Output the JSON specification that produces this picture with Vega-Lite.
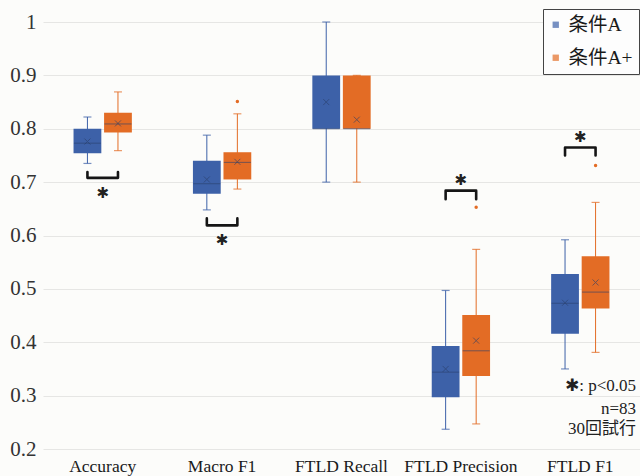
{
  "$schema": "https://vega.github.io/schema/vega-lite/v6.json",
  "autosize": {"type": "none"},
  "padding": {"left": 43, "top": 22, "right": 0, "bottom": 27},
  "width": 597,
  "height": 427,
  "background": "#fcfcfa",
  "config": {
    "view": {"stroke": null},
    "font": "Liberation Serif"
  },
  "datasets": {
    "boxes": [
      {"metric": "Accuracy", "cond": "条件A", "min": 0.735, "q1": 0.754, "median": 0.773, "q3": 0.800, "max": 0.822, "mean": 0.776},
      {"metric": "Accuracy", "cond": "条件A+", "min": 0.759, "q1": 0.793, "median": 0.809, "q3": 0.830, "max": 0.869, "mean": 0.810},
      {"metric": "Macro F1", "cond": "条件A", "min": 0.648, "q1": 0.678, "median": 0.697, "q3": 0.740, "max": 0.788, "mean": 0.705},
      {"metric": "Macro F1", "cond": "条件A+", "min": 0.687, "q1": 0.705, "median": 0.737, "q3": 0.756, "max": 0.828, "mean": 0.738},
      {"metric": "FTLD Recall", "cond": "条件A", "min": 0.70, "q1": 0.80, "median": 0.80, "q3": 0.90, "max": 1.00, "mean": 0.850},
      {"metric": "FTLD Recall", "cond": "条件A+", "min": 0.70, "q1": 0.80, "median": 0.80, "q3": 0.90, "max": 0.90, "mean": 0.817},
      {"metric": "FTLD Precision", "cond": "条件A", "min": 0.237, "q1": 0.297, "median": 0.344, "q3": 0.393, "max": 0.497, "mean": 0.350},
      {"metric": "FTLD Precision", "cond": "条件A+", "min": 0.247, "q1": 0.337, "median": 0.384, "q3": 0.451, "max": 0.574, "mean": 0.403},
      {"metric": "FTLD F1", "cond": "条件A", "min": 0.350, "q1": 0.416, "median": 0.473, "q3": 0.528, "max": 0.592, "mean": 0.474},
      {"metric": "FTLD F1", "cond": "条件A+", "min": 0.381, "q1": 0.463, "median": 0.494, "q3": 0.561, "max": 0.662, "mean": 0.512}
    ],
    "outliers": [
      {"metric": "Macro F1", "cond": "条件A+", "value": 0.851},
      {"metric": "FTLD Precision", "cond": "条件A+", "value": 0.653},
      {"metric": "FTLD F1", "cond": "条件A+", "value": 0.731}
    ],
    "brackets": [
      {"id": "acc", "metric": "Accuracy", "cond": "条件A", "ord": 1, "value": 0.719},
      {"id": "acc", "metric": "Accuracy", "cond": "条件A", "ord": 2, "value": 0.708},
      {"id": "acc", "metric": "Accuracy", "cond": "条件A+", "ord": 3, "value": 0.708},
      {"id": "acc", "metric": "Accuracy", "cond": "条件A+", "ord": 4, "value": 0.719},
      {"id": "mac", "metric": "Macro F1", "cond": "条件A", "ord": 1, "value": 0.632},
      {"id": "mac", "metric": "Macro F1", "cond": "条件A", "ord": 2, "value": 0.619},
      {"id": "mac", "metric": "Macro F1", "cond": "条件A+", "ord": 3, "value": 0.619},
      {"id": "mac", "metric": "Macro F1", "cond": "条件A+", "ord": 4, "value": 0.632},
      {"id": "pre", "metric": "FTLD Precision", "cond": "条件A", "ord": 1, "value": 0.668},
      {"id": "pre", "metric": "FTLD Precision", "cond": "条件A", "ord": 2, "value": 0.684},
      {"id": "pre", "metric": "FTLD Precision", "cond": "条件A+", "ord": 3, "value": 0.684},
      {"id": "pre", "metric": "FTLD Precision", "cond": "条件A+", "ord": 4, "value": 0.668},
      {"id": "f1", "metric": "FTLD F1", "cond": "条件A", "ord": 1, "value": 0.750},
      {"id": "f1", "metric": "FTLD F1", "cond": "条件A", "ord": 2, "value": 0.765},
      {"id": "f1", "metric": "FTLD F1", "cond": "条件A+", "ord": 3, "value": 0.765},
      {"id": "f1", "metric": "FTLD F1", "cond": "条件A+", "ord": 4, "value": 0.750}
    ],
    "stars": [
      {"metric": "Accuracy", "value": 0.680, "label": "✱"},
      {"metric": "Macro F1", "value": 0.592, "label": "✱"},
      {"metric": "FTLD Precision", "value": 0.704, "label": "✱"},
      {"metric": "FTLD F1", "value": 0.785, "label": "✱"}
    ],
    "notes": [
      {"metric": "FTLD F1", "value": 0.318, "text": "✱: p<0.05"},
      {"metric": "FTLD F1", "value": 0.275, "text": "n=83"},
      {"metric": "FTLD F1", "value": 0.237, "text": "30回試行"}
    ]
  },
  "encoding": {
    "x": {
      "field": "metric", "type": "nominal",
      "scale": {"domain": ["Accuracy", "Macro F1", "FTLD Recall", "FTLD Precision", "FTLD F1"], "paddingInner": 0, "paddingOuter": 0},
      "axis": {"title": null, "labelAngle": 0, "domain": false, "ticks": false, "labelPadding": 8, "labelFontSize": 17.5, "labelFont": "Liberation Serif", "labelColor": "#1a1a1a"}
    }
  },
  "layer": [
    {
      "data": {"name": "boxes"},
      "mark": {"type": "rule", "strokeWidth": 1},
      "encoding": {
        "xOffset": {"field": "cond", "type": "nominal", "scale": {"domain": ["条件A", "条件A+"], "paddingInner": 0.09, "paddingOuter": 1.0}},
        "y": {
          "field": "min", "type": "quantitative",
          "scale": {"domain": [0.2, 1], "nice": false, "zero": false},
          "axis": {"title": null, "values": [0.2, 0.3, 0.4, 0.5, 0.6, 0.7, 0.8, 0.9, 1], "format": "~g", "grid": true, "gridColor": "#e6e6e4", "domain": false, "ticks": false, "labelPadding": 7, "labelFontSize": 21, "labelFont": "Liberation Serif", "labelColor": "#333333"}
        },
        "y2": {"field": "max"},
        "color": {
          "field": "cond", "type": "nominal",
          "scale": {"domain": ["条件A", "条件A+"], "range": ["#3d61a8", "#e36c25"]},
          "legend": {
            "title": null, "orient": "none", "legendX": 500, "legendY": -13,
            "symbolType": "square", "symbolSize": 40, "symbolStrokeWidth": 0, "symbolOpacity": 1, "symbolOffset": -3,
            "labelFont": "Liberation Serif, Noto Sans CJK JP", "labelFontSize": 19.5, "labelColor": "#1a1a1a",
            "labelOffset": 3, "rowPadding": 12, "padding": 6,
            "strokeColor": "#444444", "fillColor": "#fdfdfd"
          }
        }
      }
    },
    {
      "data": {"name": "boxes"},
      "mark": {"type": "tick", "size": 8, "thickness": 1.2, "orient": "horizontal"},
      "encoding": {
        "xOffset": {"field": "cond", "type": "nominal"},
        "y": {"field": "min", "type": "quantitative"},
        "color": {"field": "cond", "type": "nominal"}
      }
    },
    {
      "data": {"name": "boxes"},
      "mark": {"type": "tick", "size": 8, "thickness": 1.2, "orient": "horizontal"},
      "encoding": {
        "xOffset": {"field": "cond", "type": "nominal"},
        "y": {"field": "max", "type": "quantitative"},
        "color": {"field": "cond", "type": "nominal"}
      }
    },
    {
      "data": {"name": "boxes"},
      "mark": {"type": "bar", "strokeWidth": 1},
      "encoding": {
        "xOffset": {"field": "cond", "type": "nominal"},
        "y": {"field": "q1", "type": "quantitative"},
        "y2": {"field": "q3"},
        "color": {"field": "cond", "type": "nominal"}
      }
    },
    {
      "data": {"name": "boxes"},
      "mark": {"type": "tick", "size": 27, "thickness": 1, "orient": "horizontal", "opacity": 0.6},
      "encoding": {
        "xOffset": {"field": "cond", "type": "nominal"},
        "y": {"field": "median", "type": "quantitative"},
        "color": {"value": "#2a3f6a"}
      }
    },
    {
      "data": {"name": "boxes"},
      "mark": {"type": "point", "shape": "M-1,-1L1,1M-1,1L1,-1", "filled": false, "size": 36, "strokeWidth": 1, "opacity": 0.6},
      "encoding": {
        "xOffset": {"field": "cond", "type": "nominal"},
        "y": {"field": "mean", "type": "quantitative"},
        "color": {"value": "#2a3f6a"}
      }
    },
    {
      "data": {"name": "outliers"},
      "mark": {"type": "circle", "size": 12, "opacity": 1},
      "encoding": {
        "xOffset": {"field": "cond", "type": "nominal"},
        "y": {"field": "value", "type": "quantitative"},
        "color": {"field": "cond", "type": "nominal"}
      }
    },
    {
      "data": {"name": "brackets"},
      "mark": {"type": "line", "color": "#151515", "strokeWidth": 2.6, "strokeJoin": "round", "strokeCap": "round"},
      "encoding": {
        "xOffset": {"field": "cond", "type": "nominal"},
        "y": {"field": "value", "type": "quantitative"},
        "detail": {"field": "id", "type": "nominal"},
        "order": {"field": "ord", "type": "quantitative"}
      }
    },
    {
      "data": {"name": "stars"},
      "mark": {"type": "text", "font": "DejaVu Sans", "fontSize": 15, "color": "#222222", "baseline": "middle", "align": "center"},
      "encoding": {
        "y": {"field": "value", "type": "quantitative"},
        "text": {"field": "label"}
      }
    },
    {
      "data": {"name": "notes"},
      "mark": {"type": "text", "font": "Liberation Serif, DejaVu Sans, Noto Sans CJK JP", "fontSize": 17, "color": "#222222", "baseline": "middle", "align": "right", "dx": -4},
      "encoding": {
        "x": {"field": "metric", "type": "nominal", "bandPosition": 1},
        "y": {"field": "value", "type": "quantitative"},
        "text": {"field": "text"}
      }
    }
  ]
}
